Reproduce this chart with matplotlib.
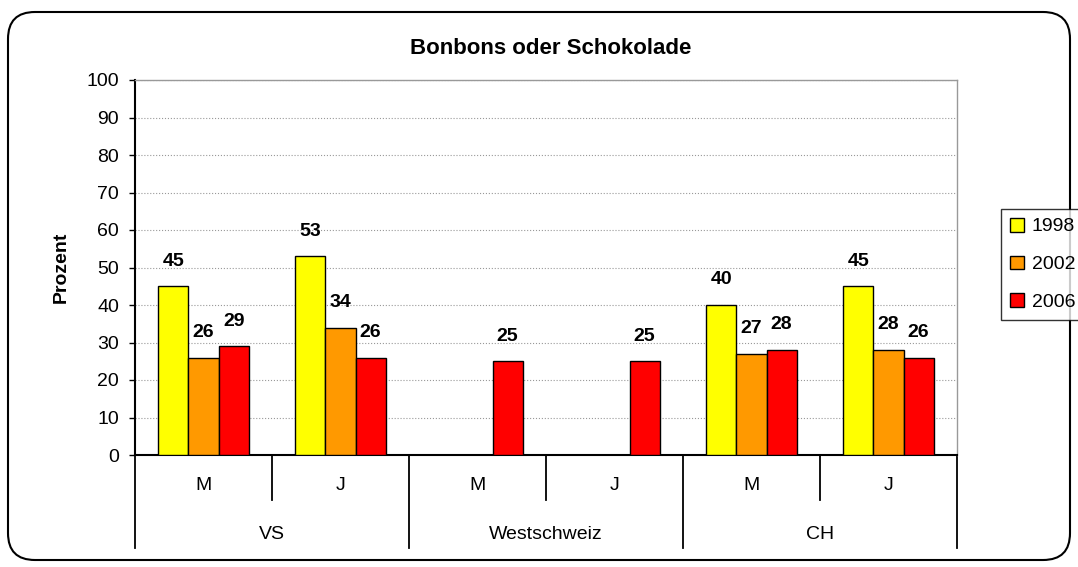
import numpy as np
import matplotlib.pyplot as plt
from matplotlib.patches import FancyBboxPatch

plt.rcParams['font.family'] = ['Liberation Sans', 'DejaVu Sans']

# Daten
gruppen = ['VS', 'Westschweiz', 'CH']
geschlecht = ['M', 'J', 'M', 'J', 'M', 'J']
jahre = ['1998', '2002', '2006']
werte_1998 = [45, 53, np.nan, np.nan, 40, 45]
werte_2002 = [26, 34, np.nan, np.nan, 27, 28]
werte_2006 = [29, 26, 25, 25, 28, 26]
farben = ['#FFFF00', '#FF9900', '#FF0000']

W, H = 1078, 567
fig = plt.figure(figsize=(W / 100, H / 100), dpi=100)
ax = fig.add_axes([135 / W, 1 - 455 / H, 822 / W, 375 / H])

x = np.arange(len(geschlecht))
breite = 0.22
serien = [werte_1998, werte_2002, werte_2006]
for i, (werte, farbe, jahr) in enumerate(zip(serien, farben, jahre)):
    pos = x + (i - 1) * breite
    ax.bar(pos, werte, breite, color=farbe, edgecolor='black', linewidth=1,
           label=jahr, zorder=3)
    for xp, v in zip(pos, werte):
        if not np.isnan(v):
            ax.annotate(f'{v:.0f}', (xp, v), xytext=(0, 12), textcoords='offset points',
                        ha='center', va='bottom', fontsize=14, fontweight='bold')

ax.set_xlim(-0.5, 5.5)
ax.set_ylim(0, 100)
ax.set_yticks(range(0, 101, 10))
ax.tick_params(axis='y', labelsize=14, length=4.5, width=1, direction='out', pad=7)
ax.set_xticks([])
ax.yaxis.grid(True, color='#999999', linestyle=':', linewidth=0.8, zorder=0)
for s in ['top', 'right']:
    ax.spines[s].set_color('#999999')
    ax.spines[s].set_linewidth(1)
ax.spines['left'].set_linewidth(1.5)
ax.spines['bottom'].set_linewidth(1.5)

# Kategorie-Beschriftung unten
trans = ax.get_xaxis_transform()
for xp, g in zip(x, geschlecht):
    ax.text(xp, -0.08, g, transform=trans, ha='center', va='center', fontsize=14)
for k in range(3):
    ax.text(2 * k + 0.5, -0.213, gruppen[k], transform=trans, ha='center', va='center', fontsize=14)
for xp in [0.5, 2.5, 4.5]:
    ax.plot([xp, xp], [0, -0.12], transform=trans, color='black', linewidth=1.3, clip_on=False)
for xp in [-0.5, 1.5, 3.5, 5.5]:
    ax.plot([xp, xp], [0, -0.248], transform=trans, color='black', linewidth=1.3, clip_on=False)

ax.set_ylabel('Prozent', fontsize=14, fontweight='bold', labelpad=12)
fig.text(551 / W, 1 - 49 / H, 'Bonbons oder Schokolade', ha='center', va='center',
         fontsize=16, fontweight='bold')

leg = fig.legend(loc='upper left', bbox_to_anchor=(1001 / W, 1 - 209 / H), fontsize=14,
                 handlelength=0.72, handleheight=0.72, handletextpad=0.4,
                 labelspacing=1.03, borderaxespad=0, frameon=True, fancybox=False,
                 borderpad=0.45)
leg.get_frame().set_edgecolor('black')
leg.get_frame().set_linewidth(1)

rahmen = FancyBboxPatch((8 / W, 1 - 560 / H), 1062 / W, 548 / H,
                        boxstyle='round,pad=0,rounding_size=0.025',
                        mutation_aspect=W / H, transform=fig.transFigure,
                        facecolor='none', edgecolor='black', linewidth=1.5)
fig.patches.append(rahmen)

fig.savefig('out.png', dpi=100)
